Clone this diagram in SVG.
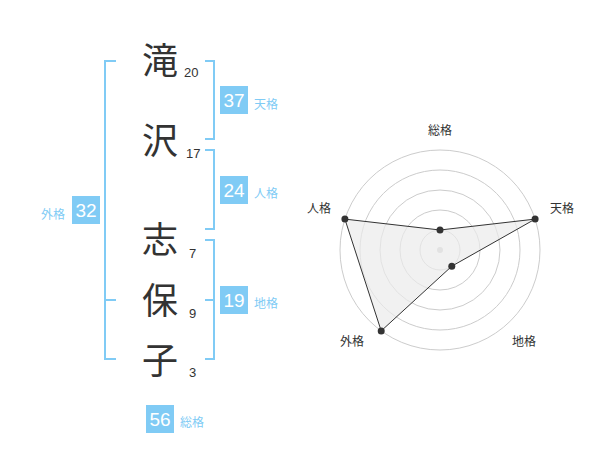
<svg xmlns="http://www.w3.org/2000/svg" width="600" height="470" viewBox="0 0 600 470">
<style>
.kanji{font-family:"Noto Sans CJK JP","Noto Sans CJK SC",sans-serif;font-size:36px;fill:#333;text-anchor:middle}
.num{font-family:"Liberation Sans",Arial,sans-serif;font-size:13px;fill:#333}
.br{fill:none;stroke:#80cbf5;stroke-width:2}
.box{fill:#80cbf5}
.bnum{font-family:"Liberation Sans",Arial,sans-serif;font-size:19px;fill:#fff;text-anchor:middle}
.lbl{font-family:"Noto Sans CJK JP","Noto Sans CJK SC",sans-serif;font-size:12px;fill:#80cbf5}
.grid{fill:none;stroke:#cccccc;stroke-width:1}
.axl{font-family:"Noto Sans CJK JP","Noto Sans CJK SC",sans-serif;font-size:12px;fill:#333;text-anchor:middle}
.dot{fill:#333}
</style>
<rect width="600" height="470" fill="#fff"/>
<g id="chars">
<g id="c1"><text class="kanji" x="160" y="74">滝</text><text class="num" x="184" y="77">20</text></g>
<g id="c2"><text class="kanji" x="160" y="154">沢</text><text class="num" x="186" y="158">17</text></g>
<g id="c3"><text class="kanji" x="160" y="253">志</text><text class="num" x="189" y="258">7</text></g>
<g id="c4"><text class="kanji" x="160" y="314">保</text><text class="num" x="189" y="318">9</text></g>
<g id="c5"><text class="kanji" x="160" y="374">子</text><text class="num" x="189" y="377">3</text></g>
</g>
<g id="connectors">
<path class="br" d="M116,61 H105 V359 H116 M105,300 H116"/>
<path class="br" d="M205,61 H214 V139 H205"/>
<path class="br" d="M205,150 H214 V229 H205"/>
<path class="br" d="M205,240 H214 V359 H205 M205,300 H214"/>
</g>
<g id="tenkaku"><rect class="box" x="220" y="86" width="28" height="28"/><text class="bnum" x="234" y="107">37</text><text class="lbl" x="254" y="109">天格</text></g>
<g id="jinkaku"><rect class="box" x="220" y="176" width="28" height="28"/><text class="bnum" x="234" y="197">24</text><text class="lbl" x="254" y="198">人格</text></g>
<g id="chikaku"><rect class="box" x="220" y="286" width="28" height="28"/><text class="bnum" x="234" y="307">19</text><text class="lbl" x="254" y="308">地格</text></g>
<g id="gaikaku"><rect class="box" x="72" y="196" width="28" height="28"/><text class="bnum" x="86" y="217">32</text><text class="lbl" x="41" y="219">外格</text></g>
<g id="soukaku"><rect class="box" x="146" y="405" width="28" height="28"/><text class="bnum" x="160" y="426">56</text><text class="lbl" x="180" y="427">総格</text></g>
<g id="radar">
<circle class="grid" cx="440" cy="250" r="20"/>
<circle class="grid" cx="440" cy="250" r="40"/>
<circle class="grid" cx="440" cy="250" r="60"/>
<circle class="grid" cx="440" cy="250" r="80"/>
<circle class="grid" cx="440" cy="250" r="100"/>
<circle cx="440" cy="250" r="3" fill="#cccccc"/>
<polygon points="440,230 535.1,219.1 451.8,266.2 381.2,330.9 344.9,219.1" fill="#ebebeb" fill-opacity="0.7" stroke="#333" stroke-width="1"/>
<circle class="dot" cx="440" cy="230" r="3.5"/>
<circle class="dot" cx="535.1" cy="219.1" r="3.5"/>
<circle class="dot" cx="451.8" cy="266.2" r="3.5"/>
<circle class="dot" cx="381.2" cy="330.9" r="3.5"/>
<circle class="dot" cx="344.9" cy="219.1" r="3.5"/>
<text class="axl" x="440" y="135">総格</text>
<text class="axl" x="562" y="213">天格</text>
<text class="axl" x="524" y="346">地格</text>
<text class="axl" x="352" y="346">外格</text>
<text class="axl" x="319" y="213">人格</text>
</g>
</svg>
